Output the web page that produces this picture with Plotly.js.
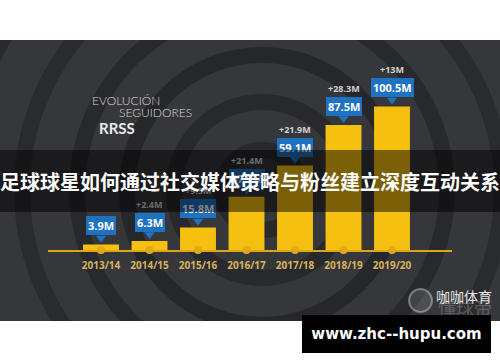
<!DOCTYPE html>
<html>
<head>
<meta charset="utf-8">
<script src="https://cdn.plot.ly/plotly-3.0.1.min.js"></script>
<style>
html,body{margin:0;padding:0;background:#fff;}
#chart{width:500px;height:362px;}
</style>
</head>
<body>
<div id="chart"></div>
<script>
// ---- data ----
var seasons = ['2013/14','2014/15','2015/16','2016/17','2017/18','2018/19','2019/20'];
var followers = [3.9, 6.3, 15.8, 37.2, 59.1, 87.5, 100.5];
var valueLabels = ['3.9M','6.3M','15.8M','37.2M','59.1M','87.5M','100.5M'];
var deltaLabels = ['', '+2.4M', '+9.5M', '+21.4M', '+21.9M', '+28.3M', '+13M'];
var titleLines = ['EVOLUCIÓN', 'SEGUIDORES', 'RRSS'];
var bannerText = '足球球星如何通过社交媒体策略与粉丝建立深度互动关系';
var urlText = 'www.zhc--hupu.com';
var wechatText = '咖咖体育';
var faintText = '懂球帝';

// ---- geometry ----
var W = 500, H = 362;
var M = {l: 48, r: 48, t: 50, b: 112};
var plotW = W - M.l - M.r, plotH = H - M.t - M.b;
var yMax = 140;
var ppu = plotH / yMax;
function px2x(px){ return (px - M.l) / plotW; }
function py2y(py){ return (H - M.b - py) / plotH; }

var BLUE = '#1e72c2';
var YELLOW = '#f6c010';
var LATIN = 'Open Sans, Lato, sans-serif';
var CJK = 'Noto Sans CJK SC, sans-serif';

var traces = [
  {
    type: 'bar', x: seasons, y: followers, width: 0.74,
    marker: {color: YELLOW, line: {width: 0}},
    hoverinfo: 'skip'
  },
  {
    type: 'scatter', mode: 'markers', x: seasons, y: seasons.map(function(){return 0;}),
    marker: {symbol: 'circle', size: 8, color: '#e2aa14'},
    cliponaxis: false, hoverinfo: 'skip'
  },
  {
    type: 'scatter', mode: 'markers', x: seasons,
    y: followers.map(function(v){ return v + 6.5 / ppu; }),
    marker: {symbol: 'triangle-down', size: 9, color: BLUE},
    hoverinfo: 'skip'
  }
];

var annotations = [];
seasons.forEach(function(s, i){
  annotations.push({
    xref: 'x', yref: 'y', x: s, y: followers[i], yanchor: 'bottom', yshift: 9,
    text: '<b>' + valueLabels[i] + '</b>', showarrow: false,
    font: {family: LATIN, size: 11, color: '#ffffff'},
    bgcolor: BLUE, borderpad: 2, borderwidth: 0
  });
  if (deltaLabels[i]) {
    annotations.push({
      xref: 'x', yref: 'y', x: s, y: followers[i], yanchor: 'bottom', yshift: 28,
      text: '<b>' + deltaLabels[i] + '</b>', showarrow: false,
      font: {family: LATIN, size: 9, color: '#d2d2d2'}
    });
  }
});

// title
annotations.push({xref:'paper', yref:'paper', x: px2x(90), y: py2y(100), xanchor:'left', yanchor:'middle',
  text: titleLines[0], showarrow:false, font:{family:'Lato, sans-serif', size:12, color:'#d8d8d8', weight:300}});
annotations.push({xref:'paper', yref:'paper', x: px2x(117), y: py2y(113), xanchor:'left', yanchor:'middle',
  text: titleLines[1], showarrow:false, font:{family:'Lato, sans-serif', size:12, color:'#d8d8d8', weight:300}});
annotations.push({xref:'paper', yref:'paper', x: px2x(97), y: py2y(128), xanchor:'left', yanchor:'middle',
  text: '<b>' + titleLines[2] + '</b>', showarrow:false, font:{family:'Lato, sans-serif', size:15, color:'#eaeaea'}});

// wechat watermark
annotations.push({xref:'paper', yref:'paper', x: px2x(436), y: py2y(307), xanchor:'left', yanchor:'middle',
  text: faintText, showarrow:false, font:{family:CJK, size:18, color:'rgba(255,255,255,0.22)'}});
annotations.push({xref:'paper', yref:'paper', x: px2x(434), y: py2y(296), xanchor:'left', yanchor:'middle',
  text: wechatText, showarrow:false, font:{family:CJK, size:14, color:'#e6e6e6'}});

// banner (drawn on top of labels)
annotations.push({xref:'paper', yref:'paper', x: px2x(250), y: py2y(181), xanchor:'center', yanchor:'middle',
  width: 500, height: 62, bgcolor:'rgba(0,0,0,0.5)', borderpad:0, borderwidth:0,
  text: '<b>' + bannerText + '</b>', showarrow:false, font:{family:CJK, size:20, color:'#ffffff'}});

// url box
annotations.push({xref:'paper', yref:'paper', x: px2x(396.5), y: py2y(334), xanchor:'center', yanchor:'middle',
  width: 189, height: 38, bgcolor:'#000000', borderpad:0, borderwidth:0,
  text: '<b>' + urlText + '</b>', showarrow:false, font:{family:'DejaVu Sans, sans-serif', size:15, color:'#ffffff'}});

// background shapes
var shapes = [];
shapes.push({type:'rect', xref:'paper', yref:'paper', layer:'below',
  x0: px2x(-2), x1: px2x(502), y0: py2y(321), y1: py2y(40), fillcolor:'#36373a', line:{width:0}});
var cx = 262, cy = 190;
var rings = [40, 88, 135, 185, 240, 300];
var ringCol = ['#28292c', '#28292c', '#26272a', '#28292c', '#2a2b2e', '#28292c'];
rings.forEach(function(r, i){
  shapes.push({type:'circle', xref:'paper', yref:'paper', layer:'below',
    x0: px2x(cx - r), x1: px2x(cx + r), y0: py2y(cy + r), y1: py2y(cy - r),
    line:{color: ringCol[i], width: 16}, fillcolor:'rgba(0,0,0,0)'});
});
// ball icon of watermark
shapes.push({type:'circle', xref:'paper', yref:'paper', layer:'below',
  x0: px2x(409), x1: px2x(432), y0: py2y(312), y1: py2y(289),
  line:{color:'rgba(255,255,255,0.35)', width: 2}, fillcolor:'rgba(255,255,255,0.12)'});
// white frame strips
shapes.push({type:'rect', xref:'paper', yref:'paper', layer:'below',
  x0: px2x(-5), x1: px2x(505), y0: py2y(40), y1: py2y(-5), fillcolor:'#ffffff', line:{width:0}});
shapes.push({type:'rect', xref:'paper', yref:'paper', layer:'below',
  x0: px2x(-5), x1: px2x(505), y0: py2y(367), y1: py2y(321), fillcolor:'#ffffff', line:{width:0}});

var layout = {
  width: W, height: H,
  margin: M,
  paper_bgcolor: '#ffffff',
  plot_bgcolor: 'rgba(0,0,0,0)',
  showlegend: false,
  xaxis: {
    type: 'category', range: [-1.093, 7.237],
    showgrid: false, zeroline: false, showline: true, linecolor: '#dca616', linewidth: 2,
    ticks: '', ticklabelstandoff: 5,
    tickfont: {family: LATIN, size: 10, color: '#d8b45c', weight: 'bold'},
    fixedrange: true
  },
  yaxis: {
    range: [0, yMax], showgrid: false, zeroline: false, showline: false,
    showticklabels: false, ticks: '', fixedrange: true
  },
  annotations: annotations,
  shapes: shapes
};

Plotly.newPlot('chart', traces, layout, {staticPlot: true, displayModeBar: false});
</script>
</body>
</html>
